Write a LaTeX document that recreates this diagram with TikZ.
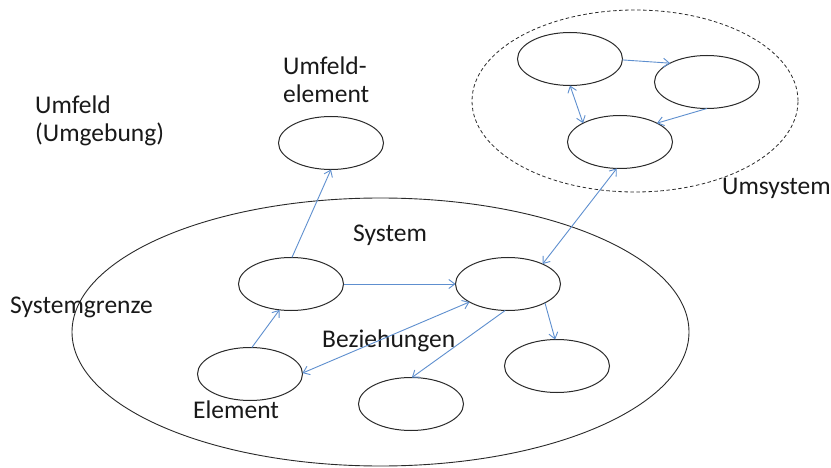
\documentclass[tikz,border=0pt]{standalone}
\usepackage{fontspec}
\setmainfont{Carlito}
\usetikzlibrary{shapes.geometric,arrows.meta}
\definecolor{relblue}{HTML}{5E8FCF}
\definecolor{linegray}{HTML}{2A2A2A}
\tikzset{
  elem/.style={ellipse,draw=linegray,line width=1pt,fill=white,minimum width=105pt,minimum height=53pt,inner sep=0pt,outer sep=0pt},
  rel/.style={draw=relblue,line width=0.9pt,-{Straight Barb[length=6pt,width=9pt]}},
  birel/.style={draw=relblue,line width=0.9pt,{Straight Barb[length=6pt,width=9pt]}-{Straight Barb[length=6pt,width=9pt]}},
  lbl/.style={font=\fontsize{25.5}{28.5}\selectfont,text=black!90,anchor=base west,inner sep=0pt,align=left}
}
\begin{document}
\begin{tikzpicture}[x=1pt,y=-1pt]
\useasboundingbox (0,0) rectangle (831,468);
% boundaries
\node[ellipse,draw=linegray,line width=0.9pt,fill=white,minimum width=617pt,minimum height=268pt,inner sep=0pt] (sys) at (380.5,332) {};
\node[ellipse,draw=linegray,line width=0.8pt,dash pattern=on 3.5pt off 2.5pt,fill=white,minimum width=326pt,minimum height=182pt,inner sep=0pt] (umsys) at (635,101) {};
% elements
\node[elem] (ufe) at (331,143) {};
\node[elem] (ul) at (291,284) {};
\node[elem] (ctr) at (508,284) {};
\node[elem] (el) at (250,374) {};
\node[elem] (bm) at (411,404) {};
\node[elem] (rt) at (557,366) {};
\node[elem] (utl) at (570,59) {};
\node[elem] (utr) at (707,82) {};
\node[elem] (ub) at (620,142) {};
% labels (base = baseline of the last line)
\node[lbl] (tumfeld) at (35,142) {Umfeld\\(Umgebung)};
\node[lbl] (tufe) at (283,103) {Umfeld-\\element};
\node[lbl] (tsystem) at (353,241) {System};
\node[lbl] (tgrenze) at (10,313) {Systemgrenze};
\node[lbl] (tbez) at (322,347) {Beziehungen};
\node[lbl] (telem) at (193,418) {Element};
\node[lbl] (tumsys) at (722,195) {Umsystem};
% relations
\draw[rel] (ul.88) -- (ufe.270);
\draw[rel] (ul.0) -- (ctr.180);
\draw[rel] (el.86) -- (ul.246);
\draw[birel] (el.1) -- (ctr.205);
\draw[rel] (ctr.264) -- (bm.88);
\draw[rel] (ctr.333) -- (rt.94);
\draw[birel] (ctr.30) -- (ub.263);
\draw[rel] (utl.359) -- (utr.153);
\draw[rel] (utr.270) -- (ub.27);
\draw[birel] (utl.270) -- (ub.153);
\end{tikzpicture}
\end{document}
